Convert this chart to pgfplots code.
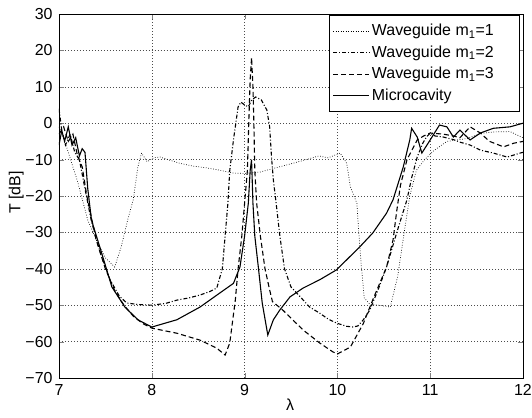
\documentclass[border=0pt]{standalone}
\usepackage{pgfplots}
\pgfplotsset{compat=1.18}
\usepackage{fontspec}
\setmainfont{Liberation Sans}
\begin{document}
\fontsize{16}{19}\selectfont
\begin{tikzpicture}
\useasboundingbox (-59bp,-40bp) rectangle (473bp,378bp);
\begin{axis}[
  at={(0,0)}, anchor=south west,
  scale only axis, width=464bp, height=364bp,
  xmin=7, xmax=12, ymin=-70, ymax=30,
  xtick={7,8,9,10,11,12},
  ytick={-70,-60,-50,-40,-30,-20,-10,0,10,20,30},
  yticklabels={−70,−60,−50,−40,−30,−20,−10,0,10,20,30},
  /pgf/number format/assume math mode=true,
  tick align=inside, major tick length=5bp,
  tick label style={font=\fontsize{16}{19}\selectfont},
  label style={font=\fontsize{16}{19}\selectfont},
  xticklabel style={yshift=-1bp},
  yticklabel style={xshift=-1bp},
  grid=major,
  major grid style={black!70, line width=0.4pt, dash pattern=on 0.6pt off 2.4pt},
  axis line style={line width=0.6pt},
  xlabel={λ}, ylabel={T [dB]},
  xlabel style={at={(axis description cs:0.498,-0.074)}, anchor=center},
  ylabel style={at={(axis description cs:-0.092,0.51)}, anchor=center},
  legend style={at={(0.9935,0.996)}, anchor=north east, draw=black, line width=0.6pt, fill=white,
    font=\fontsize{16}{19}\selectfont, row sep=3.5pt, inner xsep=4bp, inner ysep=6.5bp},
  legend cell align=left,
  legend image code/.code={\draw[#1] (0bp,0bp) -- (25bp,0bp); \path (0bp,0bp) -- (36bp,0bp);},
]
\addplot[black, line width=0.7pt, dash pattern=on 0.7pt off 1.8pt] coordinates {
(7.00,-1) (7.05,-4) (7.10,-8) (7.20,-16) (7.31,-26.6) (7.40,-32) (7.50,-37) (7.60,-39.5)
(7.67,-34) (7.74,-26.6) (7.80,-21) (7.85,-12) (7.89,-8.2) (7.95,-10.6) (8.02,-9.5) (8.09,-9.3)
(8.20,-10.2) (8.30,-11) (8.45,-11.8) (8.60,-12.3) (8.75,-13) (8.88,-13.7) (9.00,-13.8) (9.17,-13.4)
(9.30,-12.5) (9.45,-11.5) (9.65,-10.1) (9.80,-9) (9.90,-9.5) (10.03,-8.2) (10.10,-11) (10.14,-17.5)
(10.21,-22) (10.23,-30) (10.26,-40) (10.29,-48) (10.35,-49.8) (10.45,-50) (10.57,-50.5) (10.65,-42)
(10.72,-30) (10.78,-20) (10.85,-13) (10.94,-10) (11.04,-7.5) (11.18,-5) (11.40,-4.2) (11.55,-2.8)
(11.68,-2.4) (11.86,-2.3) (12.00,-4)
};
\addlegendentry{Waveguide m\textsubscript{1}=1\hspace*{20bp}}
\addplot[black, line width=1.1pt, dash pattern=on 4pt off 2pt on 1pt off 2pt] coordinates {
(7.00,4) (7.03,-2) (7.07,-6) (7.12,-3) (7.17,-8) (7.22,-10) (7.28,-18) (7.35,-27) (7.45,-36)
(7.55,-43) (7.65,-47.5) (7.73,-49.4) (7.85,-49.8) (8.00,-50) (8.15,-49.5) (8.27,-48.6) (8.40,-48)
(8.52,-47.2) (8.62,-46.3) (8.70,-45.3) (8.76,-40) (8.79,-31) (8.82,-22) (8.84,-13) (8.88,-4.6)
(8.93,4.5) (8.96,5.8) (9.00,5) (9.04,4.5) (9.08,6.5) (9.12,7.2) (9.18,6.4) (9.24,3.6) (9.27,-1)
(9.29,-9.3) (9.31,-15.6) (9.34,-22) (9.38,-31) (9.43,-40) (9.50,-45) (9.60,-47.7) (9.70,-50.5)
(9.81,-52.2) (9.90,-53.8) (9.99,-54.9) (10.10,-55.8) (10.17,-56) (10.22,-55.7) (10.28,-54)
(10.35,-51.3) (10.45,-45) (10.53,-39.5) (10.64,-30) (10.75,-21) (10.80,-15) (10.86,-9.3)
(10.92,-5.5) (10.96,-3.8) (11.00,-2.7) (11.05,-3.5) (11.14,-3.8) (11.25,-4.5) (11.32,-5.2)
(11.43,-6) (11.54,-7.4) (11.68,-8.2) (11.83,-9.3) (11.97,-8.2) (12.00,-8)
};
\addlegendentry{Waveguide m\textsubscript{1}=2}
\addplot[black, line width=1.1pt, dash pattern=on 5pt off 3pt] coordinates {
(7.00,-3) (7.05,-1) (7.10,-5) (7.15,-3) (7.20,-9) (7.25,-12) (7.30,-20) (7.40,-32) (7.50,-40)
(7.60,-46) (7.70,-50) (7.80,-53) (7.90,-55) (8.00,-56.3) (8.27,-57.7) (8.52,-59.6) (8.70,-61.8)
(8.79,-63.7) (8.84,-60.4) (8.90,-48.6) (8.93,-40) (8.97,-31) (9.00,-22) (9.03,-13) (9.045,0)
(9.06,12) (9.075,18) (9.09,10) (9.10,0) (9.11,-13) (9.13,-22) (9.17,-31) (9.22,-40) (9.27,-45.8)
(9.30,-49) (9.41,-51.3) (9.63,-56.8) (9.81,-60.4) (9.95,-62.8) (10.00,-63.4) (10.14,-61.5)
(10.28,-55) (10.38,-48.6) (10.53,-39.5) (10.60,-32) (10.64,-24) (10.68,-17) (10.75,-10)
(10.86,-4.6) (10.93,-3.5) (11.00,-2.7) (11.14,-3) (11.25,-3.5) (11.32,-4) (11.43,-1) (11.54,-2.7)
(11.64,-5) (11.79,-6.5) (11.90,-5.5) (12.00,-5)
};
\addlegendentry{Waveguide m\textsubscript{1}=3}
\addplot[black, line width=1.1pt] coordinates {
(7.00,-6) (7.03,-2) (7.06,-5) (7.10,-1) (7.14,-6) (7.18,-4) (7.22,-9) (7.25,-7) (7.28,-8)
(7.31,-18) (7.35,-26.6) (7.46,-35.7) (7.57,-45) (7.71,-50.5) (7.85,-54) (8.00,-56) (8.27,-54)
(8.52,-50.5) (8.73,-46.7) (8.88,-44) (8.95,-39.5) (9.00,-31) (9.04,-22) (9.06,-13) (9.075,-10)
(9.09,-22) (9.11,-31) (9.15,-40) (9.19,-49.4) (9.25,-58.2) (9.31,-54) (9.38,-51.3) (9.49,-47.7)
(9.63,-45.3) (9.81,-43) (9.99,-40.3) (10.24,-34) (10.38,-30.2) (10.53,-24.7) (10.60,-21)
(10.71,-12) (10.78,-4.6) (10.80,-1.4) (10.86,-3.8) (10.91,-8.2) (11.00,-4.6) (11.10,-0.5)
(11.18,-1) (11.25,-3.8) (11.32,-1.9) (11.43,-4.6) (11.54,-2.7) (11.68,-1.4) (11.86,-1) (12.00,0)
};
\addlegendentry{Microcavity}
\end{axis}
\end{tikzpicture}
\end{document}
